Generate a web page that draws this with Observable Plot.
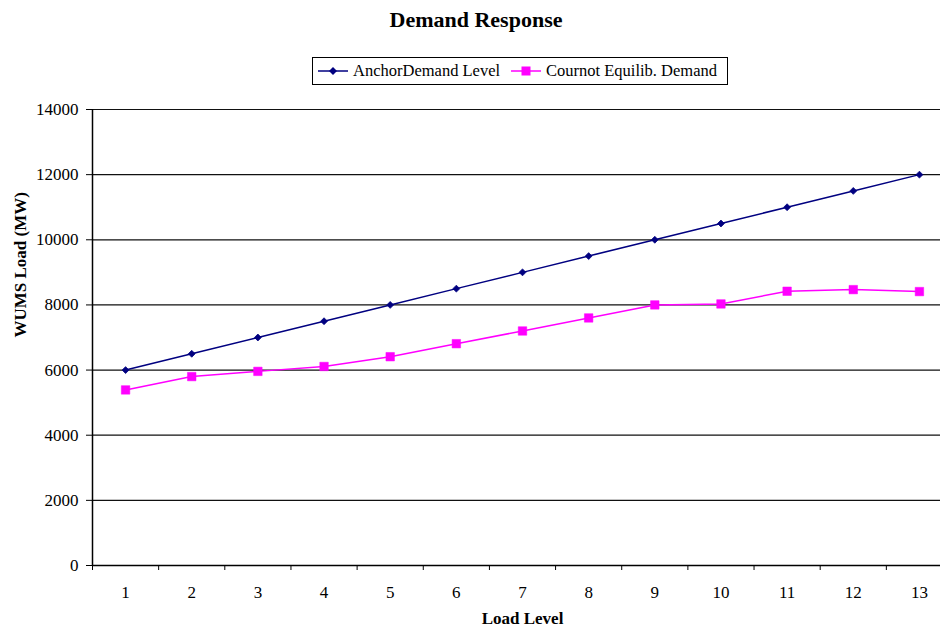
<!DOCTYPE html>
<html>
<head>
<meta charset="utf-8">
<script src="https://cdn.jsdelivr.net/npm/d3@7"></script>
<script src="https://cdn.jsdelivr.net/npm/@observablehq/plot@0.6"></script>
<style>
  html, body { margin: 0; padding: 0; background: #fff; overflow: hidden; }
  #page { position: relative; width: 940px; height: 628px; overflow: hidden; font-family: "Liberation Serif", "Times New Roman", serif; }
  #title { position: absolute; left: 0; top: 0; width: 952px; height: 40px; line-height: 40px; text-align: center; font-size: 22px; font-weight: bold; }
  #legend { position: absolute; left: 312px; top: 57px; width: 414px; height: 26px; border: 1px solid #000; display: flex; align-items: center; font-size: 16.5px; white-space: nowrap; }
  #legend .item { display: flex; align-items: center; }
  #legend svg { display: block; }
  #chart { position: absolute; left: 0; top: 100px; width: 952px; }
  #chart svg { max-width: none !important; }
  #chart svg text { font-family: "Liberation Serif", "Times New Roman", serif !important; font-size: 17px !important; }
</style>
</head>
<body>
<div id="page">
  <div id="title">Demand Response</div>
  <div id="legend"></div>
  <div id="chart"></div>
</div>
<script>
// Load levels on the horizontal axis
const loadLevels = [1, 2, 3, 4, 5, 6, 7, 8, 9, 10, 11, 12, 13];
// Anchor demand level (MW)
const anchorDemand = [6000, 6500, 7000, 7500, 8000, 8500, 9000, 9500, 10000, 10500, 11000, 11500, 12000];
// Cournot equilibrium demand (MW)
const cournotDemand = [5390, 5800, 5960, 6110, 6410, 6810, 7200, 7600, 8000, 8030, 8420, 8470, 8410];
// Vertical axis ticks
const yTicks = [0, 2000, 4000, 6000, 8000, 10000, 12000, 14000];

const seriesNames = ["AnchorDemand Level", "Cournot Equilib. Demand"];
const navy = "#000080";
const magenta = "#ff00ff";

const anchorRows = loadLevels.map((x, i) => ({x, y: anchorDemand[i]}));
const cournotRows = loadLevels.map((x, i) => ({x, y: cournotDemand[i]}));
// tick marks sit between categories
const boundaries = [...loadLevels.map(c => c - 0.5), loadLevels[loadLevels.length - 1] + 0.5];

const chart = Plot.plot({
  width: 952,
  height: 528,
  marginLeft: 92,
  marginRight: 0,
  marginTop: 9,
  marginBottom: 63,
  style: {fontFamily: "Liberation Serif, Times New Roman, serif", fontSize: "17px", background: "#fff", color: "#000", overflow: "visible", maxWidth: "none"},
  x: {type: "linear", domain: [boundaries[0], boundaries[boundaries.length - 1]]},
  y: {domain: [0, 14000]},
  marks: [
    Plot.gridY(yTicks, {stroke: "#111", strokeOpacity: 1, strokeWidth: 1.2}),
    Plot.axisY(yTicks, {tickSize: 6, tickPadding: 8, label: null, stroke: "#000", tickFormat: d => String(d)}),
    Plot.axisX(boundaries, {tickSize: 5, tickFormat: () => "", label: null, stroke: "#000"}),
    Plot.axisX(loadLevels, {tickSize: 0, tickPadding: 20, label: null, tickFormat: d => String(d)}),
    Plot.ruleY([0], {stroke: "#000", strokeWidth: 1.5}),
    Plot.ruleX([boundaries[0]], {stroke: "#000", strokeWidth: 1.5}),
    Plot.line(anchorRows, {x: "x", y: "y", stroke: navy, strokeWidth: 1.5}),
    Plot.dot(anchorRows, {x: "x", y: "y", symbol: "diamond2", fill: navy, stroke: navy, strokeWidth: 0.8, r: 3.1}),
    Plot.line(cournotRows, {x: "x", y: "y", stroke: magenta, strokeWidth: 1.5}),
    Plot.dot(cournotRows, {x: "x", y: "y", symbol: "square", fill: magenta, stroke: magenta, strokeWidth: 0.5, r: 4.8}),
    Plot.text(["WUMS Load (MW)"], {frameAnchor: "left", dx: -72, rotate: -90, fontWeight: "bold"}),
    Plot.text(["Load Level"], {frameAnchor: "bottom", dy: 58, fontWeight: "bold"})
  ]
});
document.getElementById("chart").appendChild(chart);

// Legend: line swatch with marker, then series name
const legend = d3.select("#legend");
const swatches = [
  {name: seriesNames[0], color: navy, marker: "diamond", pad: 4},
  {name: seriesNames[1], color: magenta, marker: "square", pad: 10}
];
swatches.forEach(s => {
  const item = legend.append("div").attr("class", "item").style("margin-left", s.pad + "px");
  const svg = item.append("svg").attr("width", 32).attr("height", 14);
  svg.append("line").attr("x1", 1).attr("x2", 31).attr("y1", 7).attr("y2", 7)
    .attr("stroke", s.color).attr("stroke-width", 1.5);
  if (s.marker === "diamond") {
    svg.append("path").attr("d", "M16,3L20,7L16,11L12,7Z").attr("fill", s.color);
  } else {
    svg.append("rect").attr("x", 11.5).attr("y", 2.5).attr("width", 9).attr("height", 9).attr("fill", s.color);
  }
  item.append("span").style("margin-left", "4px").text(s.name);
});
</script>
</body>
</html>
